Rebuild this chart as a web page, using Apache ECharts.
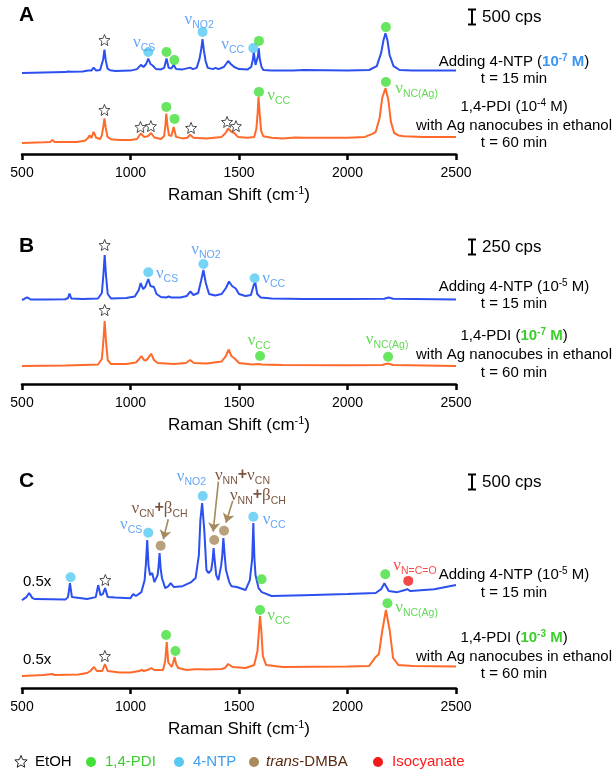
<!DOCTYPE html>
<html><head><meta charset="utf-8">
<script src="https://cdn.jsdelivr.net/npm/echarts@6/dist/echarts.min.js"></script>
<style>html,body{margin:0;padding:0;background:#fff}#c{width:614px;height:773px}</style>
</head><body><div id="c"></div>
<script>
// ---------------- DATA ----------------
const xTicks = [500, 1000, 1500, 2000, 2500];
const xRange = [500, 2500];
const axisTitle = 'Raman Shift (cm{sup|-1})';

// Panel A (cps), offsets place traces vertically
const specA_4NTP = [[500,0],[600,20],[700,30],[712,50],[720,100],[728,40],[780,50],[805,80],[812,120],[820,80],[830,180],[842,80],[860,100],[866,150],[874,450],[880,780],[886,420],[894,150],[905,90],[930,70],[1000,80],[1030,130],[1048,270],[1060,200],[1072,300],[1082,480],[1092,300],[1102,250],[1118,130],[1140,120],[1155,170],[1166,480],[1176,170],[1188,150],[1199,270],[1210,130],[1240,120],[1275,180],[1288,130],[1305,170],[1318,470],[1326,800],[1332,1130],[1338,760],[1346,400],[1356,170],[1380,130],[1392,170],[1405,130],[1430,200],[1450,400],[1462,300],[1478,200],[1500,130],[1540,120],[1556,200],[1564,450],[1568,700],[1576,270],[1582,300],[1587,550],[1591,820],[1596,450],[1604,200],[1612,100],[1650,80],[1750,80],[1800,100],[2000,80],[2100,100],[2135,230],[2155,670],[2166,1100],[2175,1320],[2184,1100],[2194,600],[2212,230],[2240,100],[2300,80],[2400,80],[2500,80]];
const specA_PDI = [[500,0],[600,20],[630,30],[640,100],[650,30],[750,30],[790,70],[805,170],[812,250],[820,170],[830,370],[842,170],[860,130],[868,250],[875,550],[880,820],[886,500],[894,200],[910,120],[950,100],[1000,100],[1030,130],[1048,320],[1062,200],[1080,220],[1095,330],[1110,180],[1140,130],[1155,230],[1161,600],[1165,980],[1170,600],[1177,260],[1188,230],[1199,530],[1210,200],[1240,150],[1262,170],[1275,270],[1290,170],[1350,150],[1420,200],[1438,330],[1450,480],[1465,370],[1478,330],[1495,200],[1540,170],[1570,200],[1580,470],[1586,1000],[1590,1530],[1595,1000],[1602,400],[1612,220],[1650,170],[1700,150],[1760,180],[1800,170],[2000,170],[2080,200],[2115,300],[2130,370],[2148,830],[2160,1500],[2175,1820],[2188,1450],[2200,700],[2215,330],[2235,250],[2260,220],[2350,200],[2500,200]];
const offsetA = [2700, 370];

// Panel B
const specB_4NTP = [[500,0],[510,17],[524,45],[540,8],[600,8],[700,13],[712,33],[719,108],[727,25],[780,17],[850,25],[868,117],[875,417],[881,750],[887,417],[895,100],[910,25],[980,33],[1020,58],[1038,167],[1047,283],[1058,183],[1068,217],[1082,350],[1092,233],[1108,217],[1120,100],[1140,50],[1165,42],[1176,58],[1188,42],[1230,42],[1260,67],[1276,142],[1290,83],[1312,117],[1325,317],[1336,500],[1347,283],[1362,100],[1390,75],[1420,100],[1440,200],[1454,308],[1468,233],[1485,192],[1500,100],[1530,67],[1555,83],[1568,250],[1575,292],[1584,100],[1600,42],[1650,25],[1800,17],[2000,17],[2170,20],[2190,42],[2210,20],[2500,8]];
const specB_PDI = [[500,0],[600,5],[700,8],[780,17],[850,25],[868,117],[875,417],[881,750],[887,417],[895,100],[910,33],[980,33],[1025,58],[1040,117],[1050,167],[1062,100],[1072,92],[1085,150],[1095,205],[1108,100],[1125,50],[1200,33],[1255,50],[1275,100],[1292,50],[1350,42],[1420,75],[1440,167],[1452,275],[1465,167],[1480,125],[1500,50],[1560,25],[1590,33],[1597,58],[1605,25],[1700,17],[2000,13],[2160,17],[2185,42],[2210,17],[2500,0]];
const offsetB = [1400, 300];

// Panel C (raw cps, drawn at 0.5x)
const specC_4NTP = [[500,0],[520,200],[533,470],[548,130],[560,67],[700,33],[712,200],[721,1130],[730,200],[800,67],[840,200],[851,1000],[862,330],[872,400],[883,800],[895,200],[930,170],[1000,130],[1012,400],[1025,270],[1050,530],[1065,1330],[1071,2400],[1077,4000],[1083,2300],[1090,1670],[1100,1800],[1110,1200],[1125,1670],[1129,2200],[1134,3130],[1139,2100],[1145,1470],[1160,800],[1175,930],[1185,1130],[1200,870],[1240,930],[1280,1200],[1300,1470],[1315,3000],[1322,5330],[1330,6470],[1340,4670],[1350,2000],[1360,1800],[1372,2000],[1378,2600],[1383,3470],[1389,2500],[1395,1670],[1405,1330],[1418,2330],[1423,3000],[1428,4130],[1434,3000],[1440,2000],[1455,1200],[1465,930],[1490,870],[1530,670],[1550,1330],[1561,2800],[1566,5130],[1571,2800],[1576,1670],[1590,800],[1605,530],[1650,270],[1800,330],[2000,400],[2130,470],[2155,730],[2170,1130],[2190,600],[2230,530],[2265,670],[2275,730],[2290,600],[2400,730],[2500,1000]];
const specC_PDI = [[500,0],[600,67],[640,133],[650,67],[760,100],[800,200],[815,333],[823,270],[832,600],[845,333],[870,333],[882,800],[895,333],[950,230],[1000,230],[1040,330],[1050,400],[1062,330],[1085,430],[1095,530],[1110,400],[1150,400],[1160,1000],[1167,2270],[1174,900],[1190,600],[1197,900],[1203,1270],[1210,800],[1220,530],[1260,400],[1295,450],[1303,530],[1315,450],[1350,430],[1420,470],[1435,530],[1450,800],[1470,600],[1530,530],[1570,730],[1585,1670],[1592,3000],[1597,4000],[1603,3000],[1610,1330],[1625,730],[1700,600],[2000,630],[2100,670],[2120,1070],[2130,1270],[2145,1470],[2160,3000],[2177,4400],[2195,3000],[2210,1200],[2235,730],[2300,670],[2500,630]];
const offsetC = [2930, 400];
const scaleC = [0.5, 0.5];

// y ranges (cps) and scale bars
const yMax = [5000, 2500, 8000];
const scaleBarCps = [500, 250, 500];

// Band markers [cm-1, cps, kind]
const marksA = [[880,3800,'etoh'],[1082,3400,'ntp'],[1166,3400,'pdi'],[1202,3130,'pdi'],[1332,4070,'ntp'],[1566,3530,'ntp'],[1592,3770,'pdi'],[2177,4230,'pdi'],
  [880,1470,'etoh'],[1046,900,'etoh'],[1094,930,'etoh'],[1279,870,'etoh'],[1445,1070,'etoh'],[1486,930,'etoh'],[1165,1570,'pdi'],[1203,1170,'pdi'],[1592,2070,'pdi'],[2177,2400,'pdi']];
const marksB = [[881,2317,'etoh'],[1082,1862,'ntp'],[1336,2000,'ntp'],[1572,1762,'ntp'],[881,1233,'etoh'],[1597,467,'pdi'],[2187,455,'pdi']];
const marksC = [[724,3690,'ntp'],[884,3600,'etoh'],[1082,5177,'ntp'],[1139,4743,'dmba'],[1333,6400,'ntp'],[1386,4933,'dmba'],[1431,5243,'dmba'],[1566,5710,'ntp'],[1604,3623,'pdi'],[2174,3790,'pdi'],[2280,3570,'iso'],
  [882,1067,'etoh'],[1164,1767,'pdi'],[1207,1233,'pdi'],[1597,2600,'pdi'],[2184,2823,'pdi']];

// Band labels [cm-1, cps, text, kind]
const labelsA = [[1012,3720,'ν_CS','ntp'],[1249,4480,'ν_NO2','ntp'],[1418,3660,'ν_CC','ntp'],[1630,1940,'ν_CC','pdi'],[2220,2190,'ν_NC(Ag)','pdi']];
const labelsB = [[1117,1845,'ν_CS','ntp'],[1280,2233,'ν_NO2','ntp'],[1607,1750,'ν_CC','ntp'],[1540,728,'ν_CC','pdi'],[2084,733,'ν_NC(Ag)','pdi']];
const labelsC = [[952,5433,'ν_CS','ntp'],[1005,5990,'ν_CN+β_CH','dmba'],[1213,7043,'ν_NO2','ntp'],[1389,7090,'ν_NN+ν_CN','dmba'],[1458,6400,'ν_NN+β_CH','dmba'],[1609,5600,'ν_CC','ntp'],[2211,4077,'ν_N=C=O','iso'],[1630,2410,'ν_CC','pdi'],[2220,2690,'ν_NC(Ag)','pdi']];
// Arrows in C [[x1,y1],[x2,y2]]
const arrowsC = [[[1174,5623],[1151,4957]],[[1405,6877],[1381,5210]],[[1471,6243],[1440,5510]]];

const legendItems = [['etoh','EtOH'],['pdi','1,4-PDI'],['ntp','4-NTP'],['dmba','{i|trans}-DMBA'],['iso','Isocyanate']];
const panelLetters = ['A','B','C'];
const sideText = [
  ['Adding 4-NTP ({bb|10}{bbs|-7}{bb| M})','t = 15 min','1,4-PDI (10{sup|-4} M)','with Ag nanocubes in ethanol','t = 60 min'],
  ['Adding 4-NTP (10{sup|-5} M)','t = 15 min','1,4-PDI ({gb|10}{gbs|-7}{gb| M})','with Ag nanocubes in ethanol','t = 60 min'],
  ['Adding 4-NTP (10{sup|-5} M)','t = 15 min','1,4-PDI ({gb|10}{gbs|-3}{gb| M})','with Ag nanocubes in ethanol','t = 60 min']
];

// ---------------- STYLE / LAYOUT ----------------
const BLUE = '#2c4ff0', ORANGE = '#ff6a2a';
const dotColor = {pdi:'#44e03a', ntp:'#55c9f2', dmba:'#a98a5c', iso:'#f01a1a'};
const textColor = {pdi:'#3ccf2c', ntp:'#3b8ef4', dmba:'#5a2a10', iso:'#ff1a1a'};
const FONT = 'Liberation Sans, Arial, sans-serif';
const grids = [{top:4,height:150},{top:234,height:150},{top:448,height:240}];
const LEFT = 22, RIGHT = 158;
const STAR_PTS = [[100,0],[126.45,63.6],[195.1,69.1],[142.8,113.9],[158.8,180.9],[100,145],[41.2,180.9],[57.2,113.9],[4.9,69.1],[73.55,63.6]];
const STAR = 'path://M' + STAR_PTS.map(function(q){return q[0]+','+q[1];}).join('L') + 'Z';

function richFor(color){
  return {
    n:{fontFamily:'Liberation Serif', fontSize:17, color:color},
    s:{fontFamily:FONT, fontSize:10.5, color:color, padding:[11,0,0,0]},
    p:{fontFamily:FONT, fontSize:16, color:color, fontWeight:'bold', padding:[0,0,2,0]}
  };
}
function fmt(str){
  return str.split('+').map(function(part){
    const ps = part.split('_');
    return '{n|'+ps[0]+'}' + (ps[1] ? '{s|'+ps[1]+'}' : '');
  }).join('{p|+}');
}

const specs = [[specA_4NTP, specA_PDI],[specB_4NTP, specB_PDI],[specC_4NTP, specC_PDI]];
const offsets = [offsetA, offsetB, offsetC];
const scales = [[1,1],[1,1],scaleC];
const marks = [marksA, marksB, marksC];
const labels = [labelsA, labelsB, labelsC];

const option = {animation:false, grid:[], xAxis:[], yAxis:[], series:[], graphic:{elements:[]}};
const G = option.graphic.elements;

for (let p=0;p<3;p++){
  option.grid.push({left:LEFT, right:RIGHT, top:grids[p].top, height:grids[p].height, containLabel:false});
  option.xAxis.push({gridIndex:p, type:'value', min:xRange[0], max:xRange[1], interval:500,
    axisLine:{show:true, onZero:false, lineStyle:{color:'#000', width:2.5}},
    axisTick:{show:true, inside:false, length:6, lineStyle:{color:'#000', width:2.5}},
    axisLabel:{show:true, fontSize:14, color:'#000', margin:12, fontFamily:FONT, formatter:function(v){return String(v);}},
    splitLine:{show:false},
    name:axisTitle, nameLocation:'middle', nameGap:31,
    nameTextStyle:{fontSize:17, color:'#000', fontFamily:FONT, rich:{sup:{fontSize:11, color:'#000', fontFamily:FONT, padding:[0,0,9,0]}}}
  });
  option.yAxis.push({gridIndex:p, type:'value', min:0, max:yMax[p], show:false});
  const cols = [BLUE, ORANGE];
  for (let t=0;t<2;t++){
    const sp = specs[p][t], off = offsets[p][t], sc = scales[p][t];
    option.series.push({type:'line', xAxisIndex:p, yAxisIndex:p, silent:true, symbol:'none', showSymbol:false,
      data: sp.map(function(d){return [d[0], off + d[1]*sc];}),
      lineStyle:{color:cols[t], width:2}, z:2});
  }
  option.series.push({type:'scatter', xAxisIndex:p, yAxisIndex:p, silent:true, z:5,
    data: marks[p].map(function(m){
      if (m[2]==='etoh') return {value:[m[0],m[1]], symbol:STAR, symbolSize:11, itemStyle:{color:'#fff', borderColor:'#222', borderWidth:1}};
      return {value:[m[0],m[1]], symbol:'circle', symbolSize:10, itemStyle:{color:dotColor[m[2]]}};
    })});
  const lab = {type:'scatter', xAxisIndex:p, yAxisIndex:p, silent:true, z:6, symbolSize:0,
    data: labels[p].map(function(l){
      return {value:[l[0],l[1]], label:{show:true, position:'right', distance:0, formatter:fmt(l[2]), rich:richFor(textColor[l[3]])}};
    })};
  if (p===2){
    lab.markLine = {silent:true, symbol:['none','arrow'], symbolSize:9, label:{show:false},
      lineStyle:{color:'#a58a5e', width:1.6, type:'solid'},
      data: arrowsC.map(function(a){return [{coord:a[0]},{coord:a[1]}];})};
  }
  option.series.push(lab);

  G.push({type:'text', x:19, y:[15,246,481][p], style:{text:panelLetters[p], fontFamily:FONT, fontSize:21, fontWeight:'bold', fill:'#000', align:'left', verticalAlign:'middle'}});
  const barH = scaleBarCps[p] / yMax[p] * grids[p].height;
  const yc = [17,247,482][p];
  G.push({type:'line', shape:{x1:472,y1:yc-barH/2,x2:472,y2:yc+barH/2}, style:{stroke:'#000', lineWidth:2}});
  G.push({type:'line', shape:{x1:468,y1:yc-barH/2,x2:476,y2:yc-barH/2}, style:{stroke:'#000', lineWidth:2}});
  G.push({type:'line', shape:{x1:468,y1:yc+barH/2,x2:476,y2:yc+barH/2}, style:{stroke:'#000', lineWidth:2}});
  G.push({type:'text', x:482, y:yc, style:{text:scaleBarCps[p]+' cps', fontFamily:FONT, fontSize:17, fill:'#000', align:'left', verticalAlign:'middle'}});
  const ys = [[62,79,107,126,143],[287,304,336,355,373],[575,593,638,657,674]][p];
  for (let k=0;k<5;k++){
    G.push({type:'text', x:514, y:ys[k], style:{text:sideText[p][k], fontFamily:FONT, fontSize:15, fill:'#000', align:'center', verticalAlign:'middle',
      rich:{
        sup:{fontSize:10, fontFamily:FONT, fill:'#000', padding:[0,0,8,0]},
        bb:{fontSize:15, fontFamily:FONT, fontWeight:'bold', fill:'#3d95f2'},
        bbs:{fontSize:10, fontFamily:FONT, fontWeight:'bold', fill:'#3d95f2', padding:[0,0,8,0]},
        gb:{fontSize:15, fontFamily:FONT, fontWeight:'bold', fill:'#3ccf2c'},
        gbs:{fontSize:10, fontFamily:FONT, fontWeight:'bold', fill:'#3ccf2c', padding:[0,0,8,0]}
      }}});
  }
}
G.push({type:'text', x:23, y:582, style:{text:'0.5x', fontFamily:FONT, fontSize:15, fill:'#000', align:'left', verticalAlign:'middle'}});
G.push({type:'text', x:23, y:660, style:{text:'0.5x', fontFamily:FONT, fontSize:15, fill:'#000', align:'left', verticalAlign:'middle'}});

const legX = [[21,35],[91,105],[179,193],[254,266],[378,392]];
const LY = 762;
legendItems.forEach(function(it, i){
  const kind = it[0];
  if (kind==='etoh'){
    const pts = STAR_PTS.map(function(q){return [legX[i][0] - 6.5 + q[0]*0.065, LY - 6.5 + q[1]*0.065];});
    G.push({type:'polygon', shape:{points:pts}, style:{fill:'#fff', stroke:'#222', lineWidth:1}});
  } else {
    G.push({type:'circle', shape:{cx:legX[i][0], cy:LY, r:5}, style:{fill:dotColor[kind]}});
  }
  G.push({type:'text', x:legX[i][1], y:LY, style:{text:it[1], fontFamily:FONT, fontSize:15, fill: kind==='etoh' ? '#000' : (kind==='ntp' ? '#3b9ef2' : textColor[kind]), align:'left', verticalAlign:'middle',
    rich:{i:{fontStyle:'italic', fontSize:15, fontFamily:FONT, fill:textColor.dmba}}}});
});

const chart = echarts.init(document.getElementById('c'), null, {renderer:'canvas'});
chart.setOption(option);
</script>
</body></html>
